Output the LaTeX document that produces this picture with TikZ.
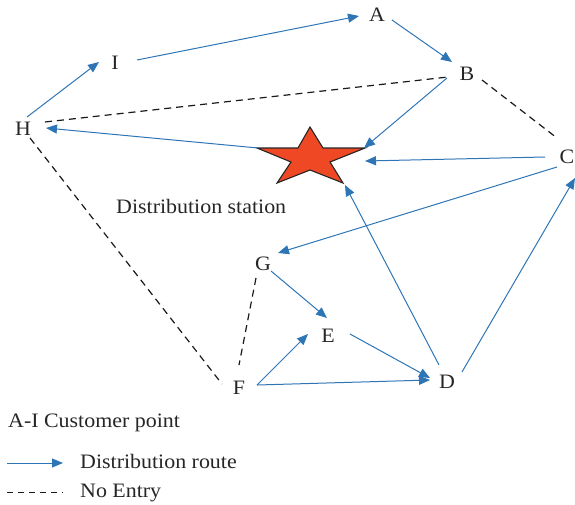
\documentclass[tikz,border=0pt]{standalone}
\usepackage{fontspec}
\setmainfont{Liberation Serif}[FakeStretch=1.07]
\usetikzlibrary{arrows.meta}
\definecolor{routeblue}{HTML}{2E75B6}
\definecolor{starred}{HTML}{EE4824}
\begin{document}
\begin{tikzpicture}[x=1pt,y=-1pt,
  lbl/.style={font=\fontsize{20.5}{24}\selectfont, inner sep=0pt, text=black!85},
  routeline/.style={draw=routeblue, line width=1pt, -{Triangle[length=11pt,width=9pt]}},
  noentry/.style={draw=black!90, line width=1.2pt, dash pattern=on 7pt off 5pt},
  starshape/.style={fill=starred, draw=black!85, line width=1.1pt, line join=miter}]
\useasboundingbox (0,0) rectangle (575,504);

% customer points
\node[lbl] (A) at (377,15) {A};
\node[lbl] (B) at (467,74) {B};
\node[lbl] (C) at (567,157) {C};
\node[lbl] (D) at (447,382) {D};
\node[lbl] (E) at (328,336) {E};
\node[lbl] (F) at (239,388) {F};
\node[lbl] (G) at (263,264) {G};
\node[lbl] (H) at (23,129) {H};
\node[lbl] (I) at (115,63) {I};

% distribution station (star)
\draw[starshape] (310,127) -- (323,148) -- (365,148) -- (330,162) -- (343,183)
  -- (310,170) -- (277,183) -- (291,162) -- (257,148) -- (298,148) -- cycle;
\coordinate (starL) at (258,148);
\coordinate (starR) at (364,148);
\coordinate (starC) at (365,161);
\coordinate (starBR) at (345,185);
\node[lbl, anchor=base west] (station) at (116,213) {Distribution station};

% distribution routes
\draw[routeline] ([shift={(22,-3)}]I.center) -- ([shift={(-18,1)}]A.center);
\draw[routeline] ([shift={(15,5)}]A.center) -- ([shift={(-15,-12)}]B.center);
\draw[routeline] ([shift={(-20,4)}]B.center) -- (starR);
\draw[routeline] ([shift={(-22,0)}]C.center) -- (starC);
\draw[routeline] (starL) -- ([shift={(23,-1)}]H.center);
\draw[routeline] ([shift={(4,-12)}]H.center) -- ([shift={(-16,-1)}]I.center);
\draw[routeline] ([shift={(-10,10)}]C.center) -- ([shift={(15,-11)}]G.center);
\draw[routeline] ([shift={(8,7)}]G.center) -- ([shift={(-1,-18)}]E.center);
\draw[routeline] ([shift={(22,-2)}]E.center) -- ([shift={(-17,-4)}]D.center);
\draw[routeline] ([shift={(18,-3)}]F.center) -- ([shift={(-20,-2)}]E.center);
\draw[routeline] ([shift={(18,-3)}]F.center) -- ([shift={(-17,-2)}]D.center);
\draw[routeline] ([shift={(-8,-17)}]D.center) -- (starBR);
\draw[routeline] ([shift={(15,-10)}]D.center) -- ([shift={(8,21)}]C.center);

% no entry
\draw[noentry] ([shift={(22,-7)}]H.center) -- ([shift={(-19,3)}]B.center);
\draw[noentry] ([shift={(15,6)}]B.center) -- ([shift={(-10,-19)}]C.center);
\draw[noentry] ([shift={(7,9)}]H.center) -- ([shift={(-17,-4)}]F.center);
\draw[noentry] ([shift={(-7,14)}]G.center) -- ([shift={(0,-23)}]F.center);

% legend
\node[lbl, anchor=base west] (legcust) at (8,427) {A-I Customer point};
\coordinate (lr1) at (7,463);
\coordinate (lr2) at (63,463);
\draw[routeline] (lr1) -- (lr2);
\node[lbl, anchor=base west] (legroute) at (80,468) {Distribution route};
\coordinate (ln1) at (7,492);
\coordinate (ln2) at (63,492);
\draw[noentry, line width=1pt, dash pattern=on 6pt off 5pt] (ln1) -- (ln2);
\node[lbl, anchor=base west] (legno) at (80,497) {No Entry};
\end{tikzpicture}
\end{document}
